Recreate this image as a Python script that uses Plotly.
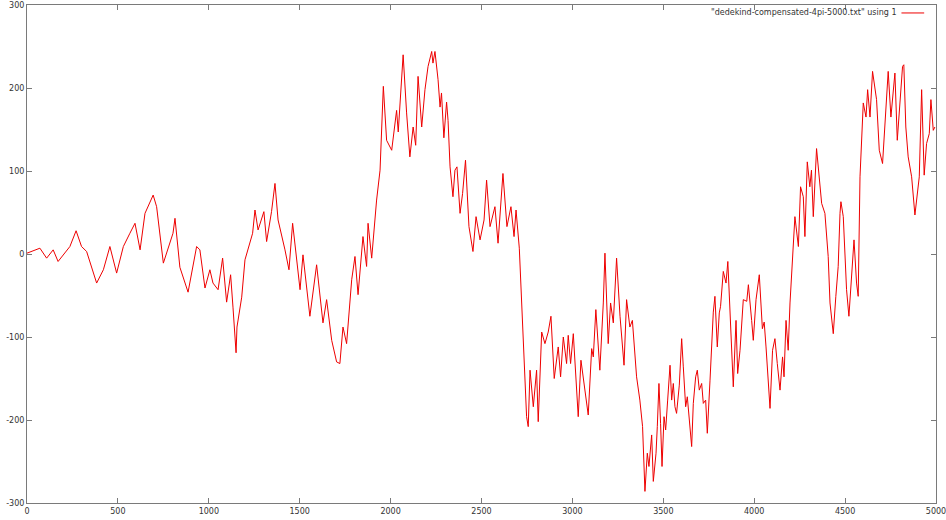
import plotly.graph_objects as go

series_name = '"dedekind-compensated-4pi-5000.txt" using 1'

x_vals = [0, 71, 108, 144, 171, 236, 270, 300, 328, 383, 420, 456, 493, 530, 566, 594, 622, 649, 694, 713,
          750, 803, 814, 841, 886, 933, 951, 979, 1006, 1023, 1051, 1076, 1098, 1120, 1133, 1150, 1155, 1181, 1199, 1216,
          1241, 1254, 1271, 1303, 1318, 1345, 1364, 1381, 1401, 1419, 1441, 1461, 1502, 1518, 1556, 1593, 1628, 1648, 1676, 1703,
          1721, 1738, 1758, 1786, 1804, 1821, 1848, 1868, 1876, 1896, 1923, 1942, 1960, 1978, 2006, 2033, 2042, 2069, 2088, 2106,
          2124, 2138, 2151, 2171, 2189, 2206, 2226, 2233, 2244, 2261, 2272, 2280, 2293, 2308, 2316, 2327, 2343, 2354, 2365, 2382,
          2396, 2412, 2431, 2453, 2470, 2492, 2514, 2528, 2547, 2574, 2591, 2618, 2640, 2662, 2679, 2690, 2708, 2721, 2737, 2748,
          2757, 2767, 2785, 2803, 2812, 2831, 2849, 2867, 2882, 2900, 2922, 2935, 2950, 2968, 2977, 2990, 3005, 3032, 3047, 3065,
          3087, 3106, 3115, 3129, 3151, 3170, 3179, 3197, 3210, 3225, 3243, 3262, 3284, 3298, 3316, 3330, 3338, 3353, 3371, 3386,
          3399, 3412, 3421, 3436, 3445, 3460, 3467, 3476, 3485, 3493, 3504, 3513, 3524, 3537, 3546, 3555, 3564, 3573, 3588, 3601,
          3610, 3623, 3632, 3643, 3656, 3665, 3678, 3687, 3698, 3711, 3720, 3733, 3742, 3757, 3775, 3784, 3797, 3808, 3815, 3830,
          3845, 3855, 3867, 3885, 3900, 3909, 3922, 3940, 3959, 3968, 3986, 3995, 4010, 4028, 4045, 4055, 4065, 4087, 4101, 4114,
          4127, 4142, 4156, 4164, 4175, 4187, 4197, 4215, 4224, 4243, 4255, 4270, 4279, 4292, 4306, 4315, 4325, 4343, 4358, 4371,
          4389, 4407, 4417, 4435, 4449, 4462, 4472, 4477, 4490, 4508, 4521, 4536, 4549, 4563, 4572, 4582, 4591, 4600, 4615, 4624,
          4637, 4651, 4673, 4688, 4706, 4719, 4737, 4752, 4774, 4787, 4802, 4816, 4823, 4834, 4847, 4866, 4884, 4908, 4921, 4935,
          4948, 4963, 4972, 4985, 4994]

y_vals = [1, 7, -5, 5, -9, 9, 28, 9, 3, -35, -19, 9, -23, 9, 25, 37, 5, 49, 71, 57,
          -11, 25, 43, -16, -46, 9, 5, -41, -19, -35, -43, -5, -58, -25, -64, -119, -88, -52, -7, 5,
          25, 53, 29, 51, 15, 51, 85, 41, 23, 5, -19, 37, -43, -1, -75, -13, -83, -55, -104, -130,
          -132, -88, -108, -31, -3, -49, 21, -15, 37, -5, 65, 101, 202, 137, 125, 173, 147, 240, 170, 117,
          153, 131, 214, 153, 198, 226, 244, 230, 244, 210, 177, 194, 140, 183, 161, 105, 69, 101, 105, 49,
          73, 113, 33, 3, 45, 17, 41, 89, 33, 57, 13, 97, 33, 57, 21, 53, 7, -55, -148, -196,
          -208, -140, -184, -140, -202, -94, -108, -94, -75, -150, -112, -148, -100, -132, -98, -132, -96, -196, -128, -156,
          -194, -114, -124, -67, -140, -59, 1, -108, -59, -83, -5, -75, -134, -55, -88, -80, -104, -148, -176, -208,
          -286, -240, -256, -218, -274, -240, -208, -156, -204, -256, -196, -212, -176, -134, -176, -156, -184, -192, -158, -102,
          -136, -184, -172, -196, -232, -180, -148, -140, -164, -156, -180, -176, -216, -152, -70, -51, -112, -71, -63, -21,
          -35, -9, -63, -160, -80, -144, -116, -55, -57, -37, -80, -104, -55, -25, -90, -82, -112, -186, -116, -102,
          -132, -164, -124, -148, -80, -116, -59, 13, 45, 9, 81, 69, 21, 111, 81, 101, 45, 127, 93, 61,
          49, -3, -59, -96, -51, -15, 49, 63, 45, -43, -75, -27, 17, -35, -51, 93, 133, 182, 165, 198,
          165, 220, 186, 125, 109, 153, 220, 165, 218, 137, 190, 226, 228, 153, 117, 93, 47, 93, 198, 95,
          133, 145, 186, 149, 153]

x_ticks = [0, 500, 1000, 1500, 2000, 2500, 3000, 3500, 4000, 4500, 5000]
y_ticks = [-300, -200, -100, 0, 100, 200, 300]

fig = go.Figure()
fig.add_trace(go.Scatter(x=x_vals, y=y_vals, mode="lines",
                         line=dict(color="#ee0000", width=1), name=series_name,
                         showlegend=False))

axis_common = dict(showline=True, linecolor="#7a7a7a", linewidth=1, mirror="allticks",
                   ticks="inside", ticklen=5, tickcolor="#7a7a7a", showgrid=False,
                   zeroline=False, automargin=False, ticklabeloverflow="allow",
                   tickfont=dict(family="DejaVu Sans", size=8, color="#333333"))

fig.update_xaxes(range=[0, 5000], tickvals=x_ticks, ticktext=[str(v) for v in x_ticks], **axis_common)
fig.update_yaxes(range=[-300, 300], tickvals=y_ticks, ticktext=[str(v) for v in y_ticks], **axis_common)

fig.add_annotation(xref="paper", yref="paper", x=0.958, y=0.984, xanchor="right", yanchor="middle",
                   text=series_name, showarrow=False,
                   font=dict(family="DejaVu Sans", size=8, color="#333333"))
fig.add_shape(type="line", xref="paper", yref="paper", x0=0.962, x1=0.987, y0=0.984, y1=0.984,
              line=dict(color="#ee0000", width=1))

fig.update_layout(width=946, height=520, margin=dict(l=27, r=10, t=5, b=17),
                  paper_bgcolor="white", plot_bgcolor="white")

fig.write_html("out.html", config={"displayModeBar": False},
               post_script="document.body.style.margin='0';document.body.style.overflow='hidden';")
